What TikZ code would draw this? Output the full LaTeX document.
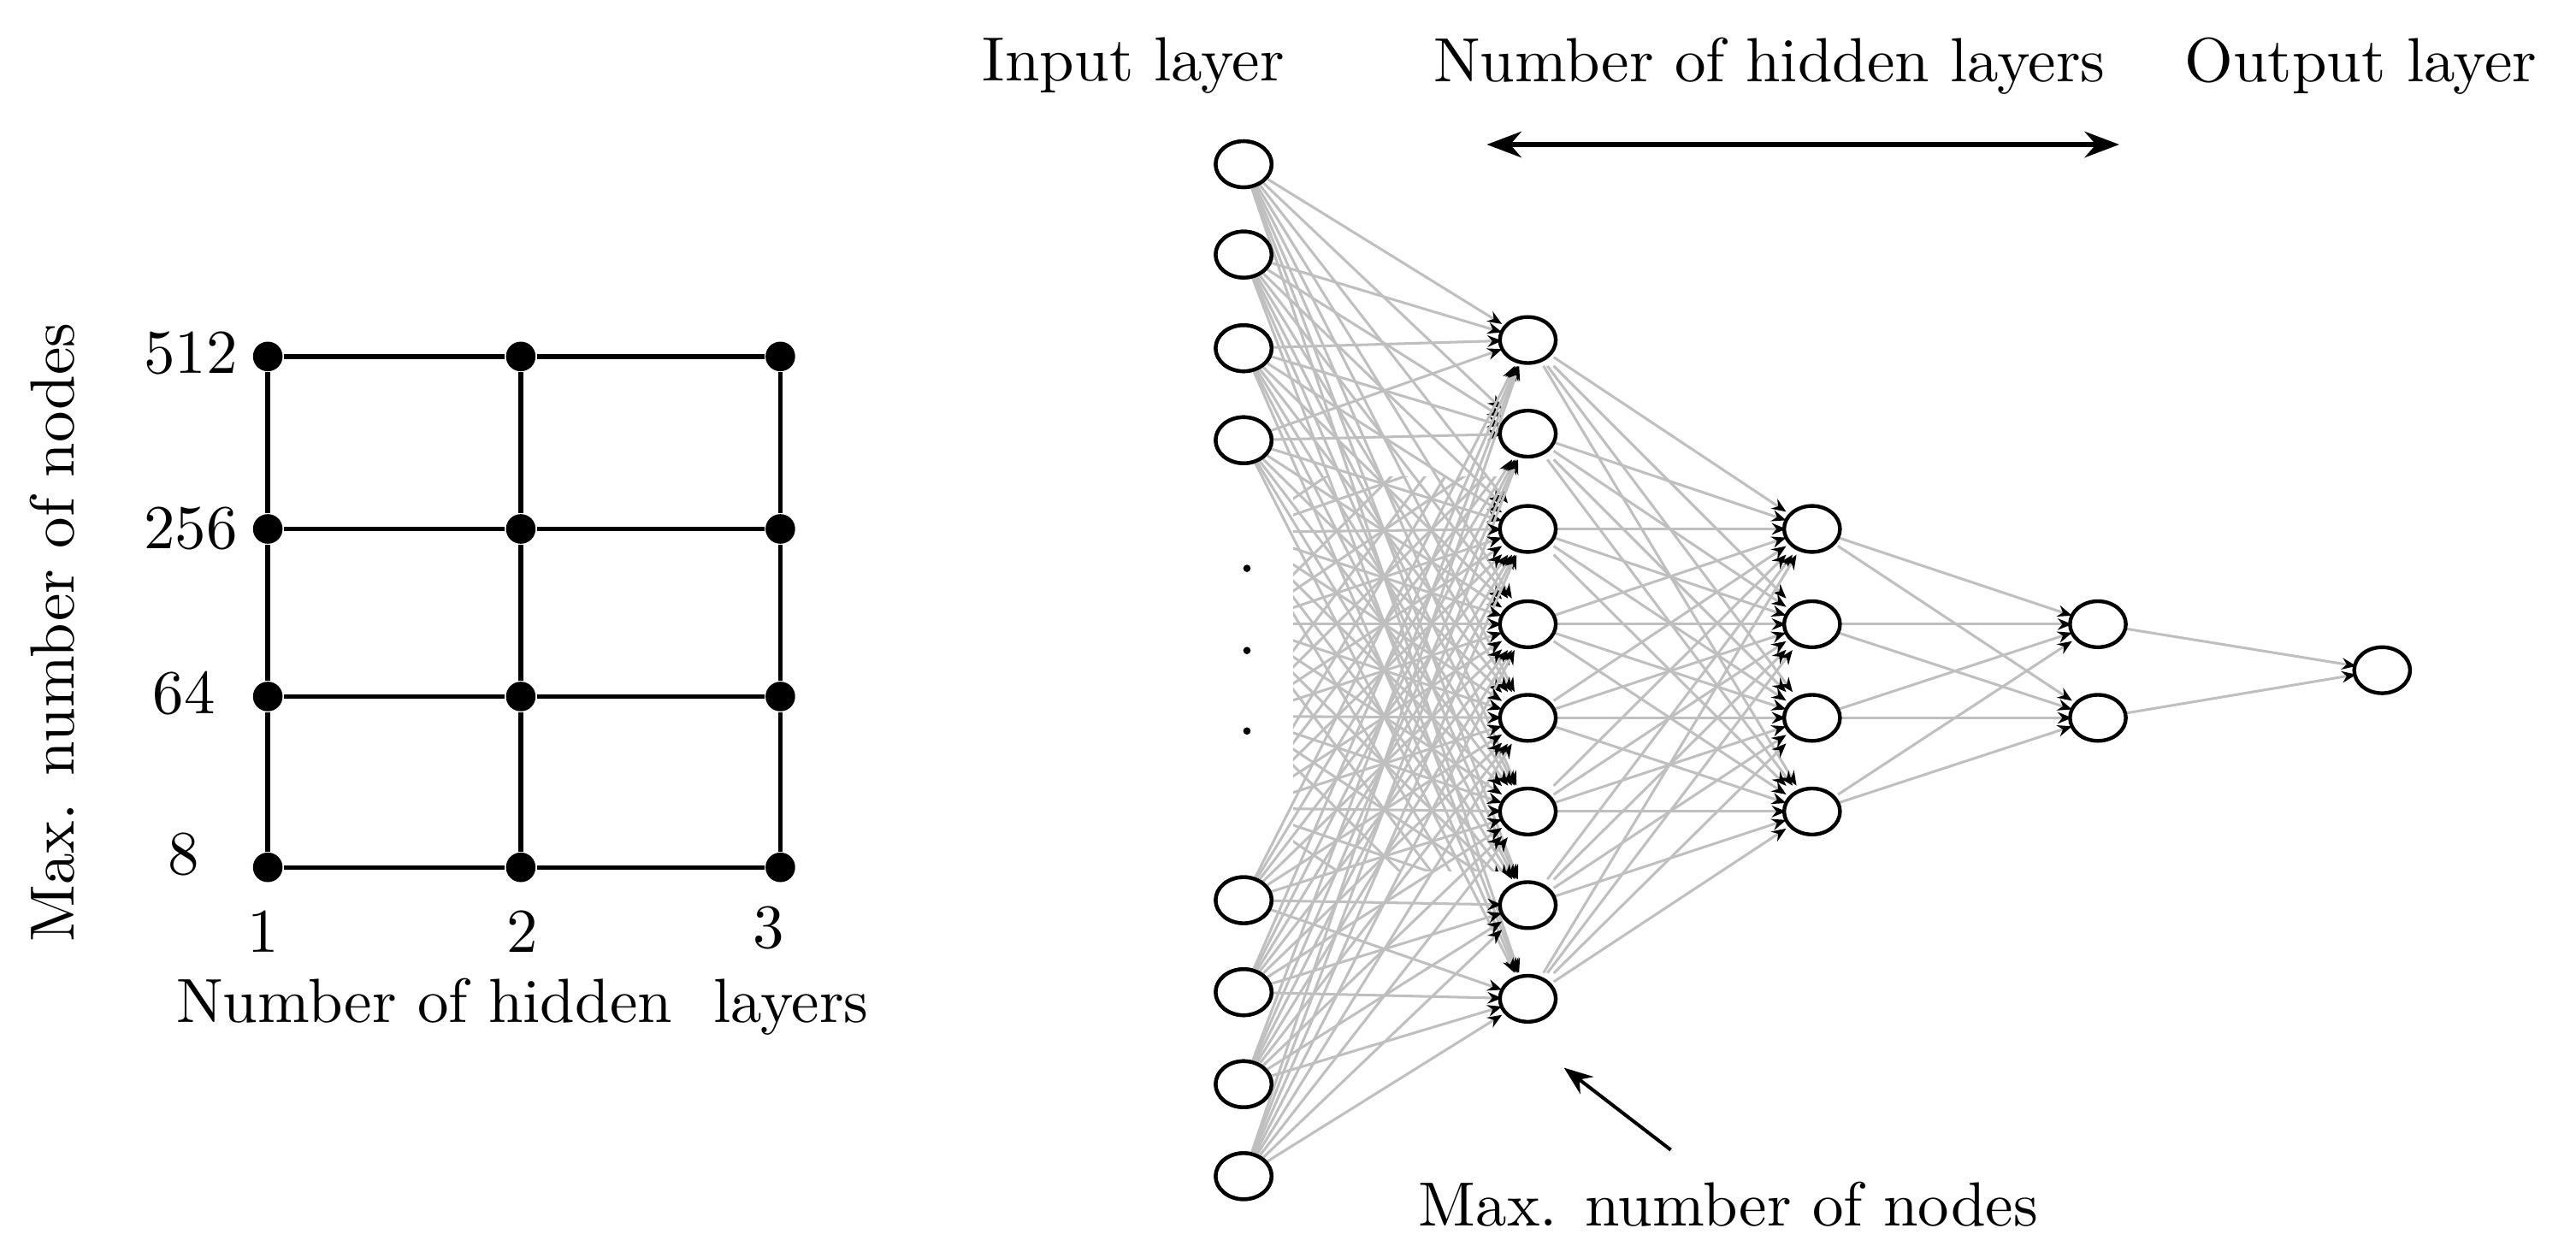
\documentclass[tikz,border=0pt]{standalone}
\usetikzlibrary{shapes.geometric,arrows.meta}
\begin{document}
\begin{tikzpicture}[x=0.01cm,y=-0.01cm,
  neu/.style={ellipse,draw,line width=0.65pt,fill=white,minimum width=0.34cm,minimum height=0.28cm,inner sep=0pt},
  hid/.style={inner sep=0pt,minimum size=0.3cm},
  conn/.style={draw=black!25,line width=0.45pt,-{Stealth[black,length=2.5pt,width=2pt]}},
  gdot/.style={circle,fill=black,inner sep=0pt,minimum size=0.18cm},
  lbl/.style={font=\fontsize{10.8}{13}\selectfont}]
\useasboundingbox (0,0) rectangle (1568,762);
% grid
\foreach \c/\x in {1/163,2/317,3/475}{
  \foreach \r/\y in {1/217,2/322,3/424,4/528}{
    \node[gdot] (g\c\r) at (\x,\y) {};}}
\foreach \r in {1,2,3,4}{\draw[line width=0.8pt] (g1\r) -- (g2\r) -- (g3\r);}
\foreach \c in {1,2,3}{\draw[line width=0.8pt] (g\c1) -- (g\c2) -- (g\c3) -- (g\c4);}
\node[lbl] (y1) at (116,215) {512};
\node[lbl] (y2) at (116,322) {256};
\node[lbl] (y3) at (112,422) {64};
\node[lbl] (y4) at (112,520) {8};
\node[lbl] (x1) at (160,567) {1};
\node[lbl] (x2) at (318,567) {2};
\node[lbl] (x3) at (468,565) {3};
\node[lbl] (xl) at (318,613) {Number of hidden\ \ layers};
\node[lbl,rotate=90] (yl) at (32,385) {Max. number of nodes};
% network
\foreach \i/\y in {1/100,2/155,3/212,4/268,5/548,6/604,7/660,8/716}{\node[neu] (i\i) at (757,\y) {};}
\foreach \i/\y in {1/324,2/380,3/436,4/492}{\coordinate (v\i) at (757,\y);}
\foreach \i/\y in {1/207,2/264,3/322,4/380,5/437,6/494,7/551,8/608}{\node[hid] (a\i) at (930,\y) {};}
\foreach \i/\y in {1/322,2/380,3/437,4/494}{\node[hid] (b\i) at (1103,\y) {};}
\foreach \i/\y in {1/380,2/437}{\node[hid] (c\i) at (1277,\y) {};}
\node[hid] (o) at (1450,408) {};
\foreach \i in {1,...,8}{\foreach \j in {1,...,8}{\draw[conn] (i\i) -- (a\j);}}
\begin{scope}
\clip (787,290) rectangle (1000,530);
\foreach \i in {1,...,4}{\foreach \j in {1,...,8}{\draw[conn] (v\i) -- (a\j);}}
\end{scope}
\foreach \i in {1,...,8}{\foreach \j in {1,...,4}{\draw[conn] (a\i) -- (b\j);}}
\foreach \i in {1,...,4}{\foreach \j in {1,2}{\draw[conn] (b\i) -- (c\j);}}
\foreach \i in {1,2}{\draw[conn] (c\i) -- (o);}
\foreach \i in {1,...,8}{\node[neu] at (a\i) {};}
\foreach \i in {1,...,4}{\node[neu] at (b\i) {};}
\foreach \i in {1,2}{\node[neu] at (c\i) {};}
\node[neu] at (o) {};
\foreach \i in {1,...,8}{\node[neu] at (i\i) {};}
\foreach \i/\y in {1/346,2/396,3/445}{\node[circle,fill=black,inner sep=0pt,minimum size=0.045cm] (d\i) at (759,\y) {};}
\node[lbl] (t1) at (690,40) {Input layer};
\node[lbl] (t2) at (1077,40) {Number of hidden layers};
\node[lbl] (t3) at (1437,40) {Output layer};
\coordinate (h1) at (905,88); \coordinate (h2) at (1290,88);
\draw[line width=0.8pt,{Stealth[length=6pt]}-{Stealth[length=6pt]}] (h1) -- (h2);
\node[lbl] (mn) at (1052,733) {Max. number of nodes};
\coordinate (m1) at (1017,700); \coordinate (m2) at (952,650);
\draw[line width=0.6pt,-{Stealth[length=5pt]}] (m1) -- (m2);
\end{tikzpicture}
\end{document}
